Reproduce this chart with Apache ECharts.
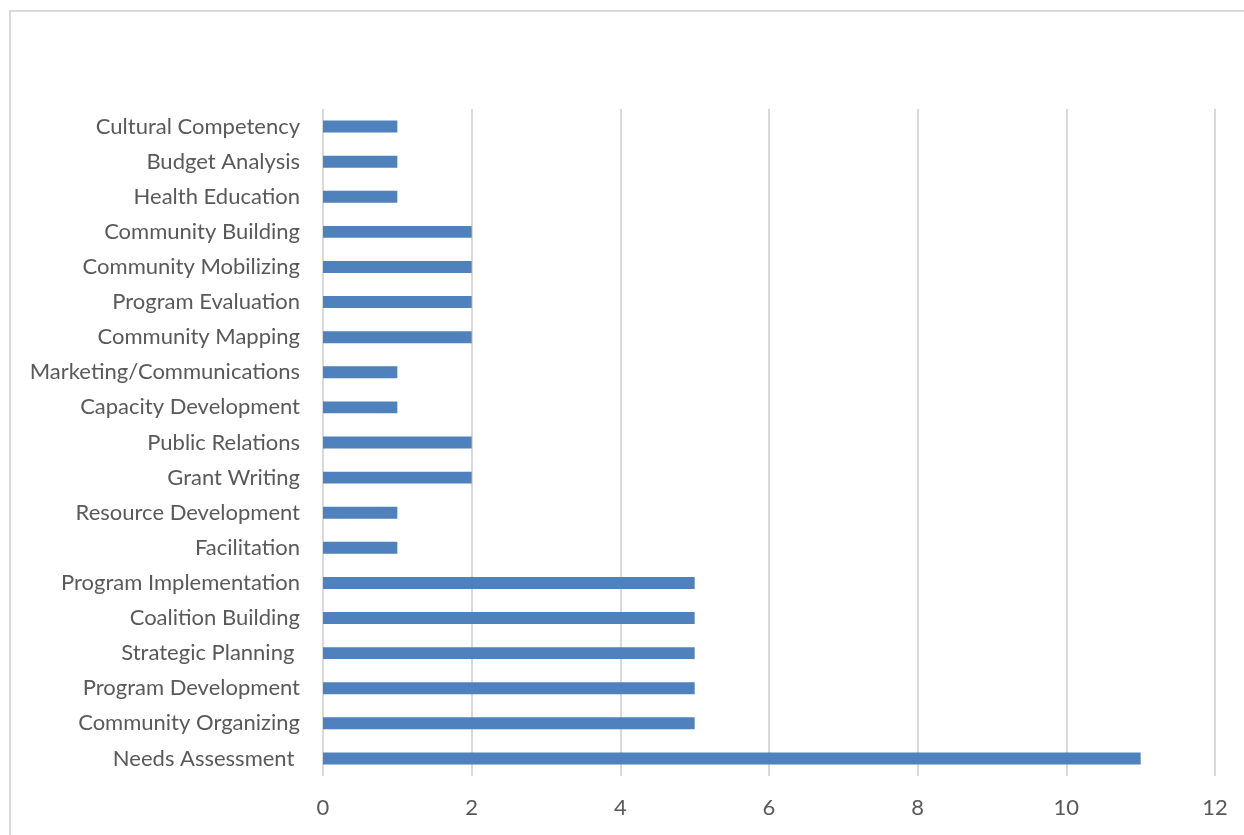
<!DOCTYPE html>
<html>
<head>
<meta charset="utf-8">
<script src="https://cdn.jsdelivr.net/npm/echarts@6/dist/echarts.min.js"></script>
<style>
html,body{margin:0;padding:0;background:#fff;overflow:hidden;}
#frame{position:absolute;left:9px;top:10px;width:1250px;height:840px;border:2px solid #d9d9d9;box-sizing:border-box;}
#chart{position:absolute;left:0;top:0;width:1244px;height:835px;}
</style>
</head>
<body>
<div id="frame"></div>
<div id="chart"></div>
<script>
const categories = [
  "Cultural Competency","Budget Analysis","Health Education","Community Building",
  "Community Mobilizing","Program Evaluation","Community Mapping","Marketing/Communications",
  "Capacity Development","Public Relations","Grant Writing","Resource Development",
  "Facilitation","Program Implementation","Coalition Building","Strategic Planning ",
  "Program Development","Community Organizing","Needs Assessment "
];
const values = [1,1,1,2,2,2,2,1,1,2,2,1,1,5,5,5,5,5,11];
const xTicks = {min:0, max:12, interval:2};

const chart = echarts.init(document.getElementById('chart'));
chart.setOption({
  animation:false,
  grid:{left:323,right:29,top:109,bottom:59,containLabel:false},
  xAxis:{
    type:'value', min:xTicks.min, max:xTicks.max, interval:xTicks.interval,
    axisLine:{show:false}, axisTick:{show:false},
    axisLabel:{color:'#595959',fontSize:22,fontFamily:'Lato',margin:21},
    splitLine:{show:true,lineStyle:{color:'#d9d9d9',width:2}}
  },
  yAxis:{
    type:'category', data:categories, inverse:true,
    axisLine:{show:false}, axisTick:{show:false},
    axisLabel:{color:'#595959',fontSize:22,fontFamily:'Lato',margin:23}
  },
  series:[{
    type:'bar', data:values, barWidth:'34%',
    itemStyle:{color:'#4f81bd'}
  }]
});
</script>
</body>
</html>
